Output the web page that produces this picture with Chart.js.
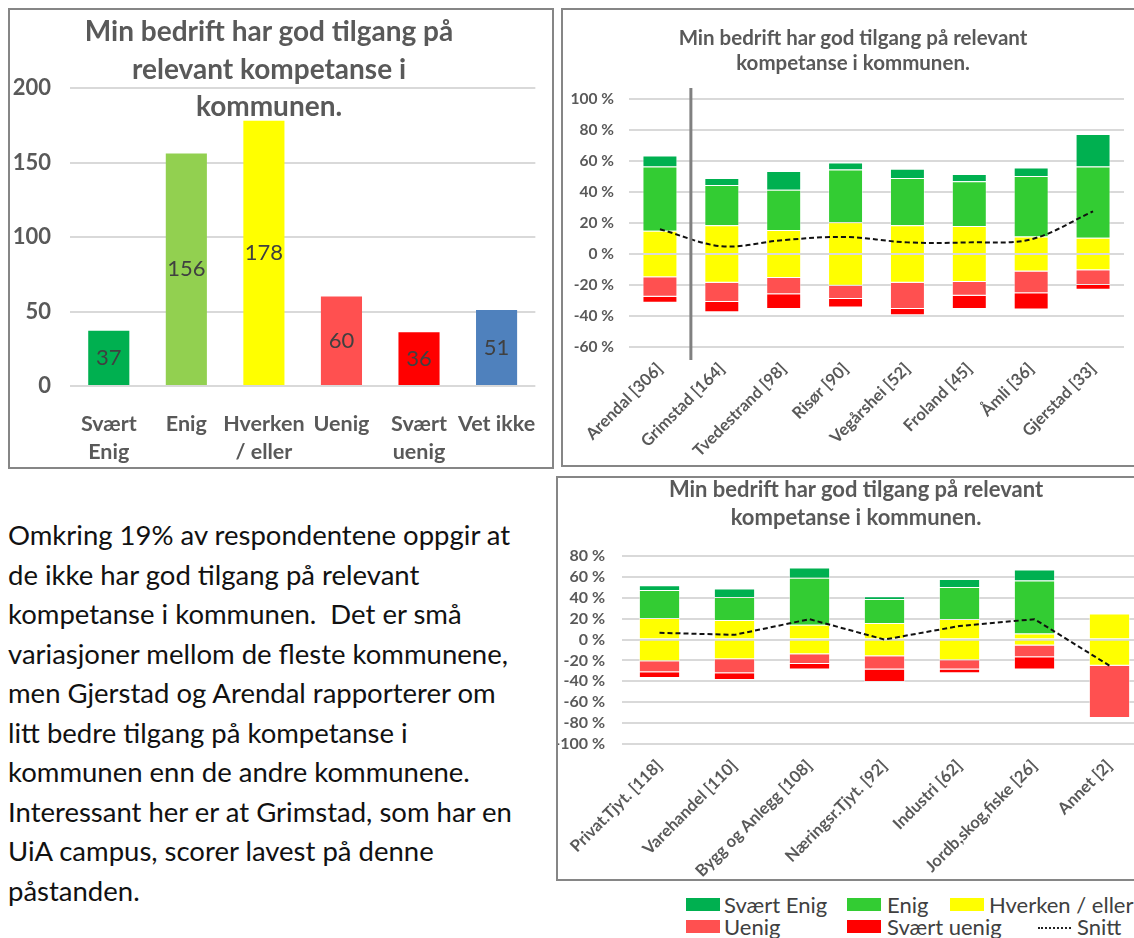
<!DOCTYPE html>
<html>
<head>
<meta charset="utf-8">
<script src="https://cdn.jsdelivr.net/npm/chart.js@4.4.1/dist/chart.umd.min.js"></script>
<style>
  html, body { margin: 0; padding: 0; background: #fff; }
  body { position: relative; width: 1134px; height: 938px; overflow: hidden; font-family: Lato, "Noto Sans", sans-serif; }
  .box { position: absolute; border: 2px solid #868686; box-sizing: border-box; background: #fff; overflow: hidden; }
  .box canvas { position: absolute; left: 0; top: 0; }
  .title { position: absolute; text-align: center; font-weight: bold; color: #595959; white-space: nowrap; }
  #text { position: absolute; left: 8px; top: 515px; font-size: 27.5px; line-height: 39.5px; color: #111; white-space: nowrap; }
  .leg { position: absolute; font-size: 22px; color: #404040; line-height: 22px; white-space: nowrap; }
  .sw { position: absolute; width: 34px; height: 13px; }
  .dash { position: absolute; width: 33px; border-top: 2px dotted #222; }
</style>
</head>
<body>

<div class="box" style="left:8px; top:8px; width:546px; height:461px;">
  <canvas id="overview" width="542" height="457"></canvas>
</div>
<div class="title" style="left:8px; width:522px; top:12px; font-size:28px; line-height:37.5px;">
  Min bedrift har god tilgang på<br>relevant kompetanse i<br>kommunen.
</div>

<div class="box" style="left:561px; top:8px; width:600px; height:459px;">
  <canvas id="kommune" width="596" height="455"></canvas>
</div>
<div class="title" style="left:553px; width:600px; top:25px; font-size:20.5px; line-height:25px;">
  Min bedrift har god tilgang på relevant<br>kompetanse i kommunen.
</div>

<div class="box" style="left:556px; top:476px; width:600px; height:405px;">
  <canvas id="bransje" width="596" height="401"></canvas>
</div>
<div class="title" style="left:556px; width:600px; top:475px; font-size:22px; line-height:28px;">
  Min bedrift har god tilgang på relevant<br>kompetanse i kommunen.
</div>

<div id="text">
  Omkring 19% av respondentene oppgir at<br>
  de ikke har god tilgang på relevant<br>
  kompetanse i kommunen.&nbsp; Det er små<br>
  variasjoner mellom de fleste kommunene,<br>
  men Gjerstad og Arendal rapporterer om<br>
  litt bedre tilgang på kompetanse i<br>
  kommunen enn de andre kommunene.<br>
  Interessant her er at Grimstad, som har en<br>
  UiA campus, scorer lavest på denne<br>
  påstanden.
</div>

<div class="sw" style="left:686px; top:898px; background:#00B050;"></div>
<div class="leg" style="left:724px; top:894px;">Svært Enig</div>
<div class="sw" style="left:847px; top:898px; background:#33CC33;"></div>
<div class="leg" style="left:887px; top:894px;">Enig</div>
<div class="sw" style="left:950px; top:898px; background:#FFFF00;"></div>
<div class="leg" style="left:989px; top:894px;">Hverken / eller</div>
<div class="sw" style="left:686px; top:920px; background:#FF5050;"></div>
<div class="leg" style="left:724px; top:916px;">Uenig</div>
<div class="sw" style="left:847px; top:920px; background:#FF0000;"></div>
<div class="leg" style="left:887px; top:916px;">Svært uenig</div>
<div class="dash" style="left:1038px; top:927px;"></div>
<div class="leg" style="left:1077px; top:916px;">Snitt</div>

<script>
// Oversikt (antall svar)
const overviewLabels = [['Svært', 'Enig'], 'Enig', ['Hverken', '/ eller'], 'Uenig', ['Svært', 'uenig'], 'Vet ikke'];
const overviewCounts = [37, 156, 178, 60, 36, 51];
const overviewTicks = [0, 50, 100, 150, 200];

// Per kommune (prosent)
const kommuner = ['Arendal [306]', 'Grimstad [164]', 'Tvedestrand [98]', 'Risør [90]', 'Vegårshei [52]', 'Froland [45]', 'Åmli [36]', 'Gjerstad [33]'];
const kommuneSvaertEnig = [7, 4.5, 12, 4.5, 6, 4.6, 5.6, 21];
const kommuneEnig = [41.5, 26, 26, 34, 30.5, 29, 39, 46];
const kommuneHverken = [30, 37, 31, 41, 37, 36, 22.5, 21];
const kommuneUenig = [12.5, 12.5, 10.5, 8.5, 17, 9, 14, 9.5];
const kommuneSvaertUenig = [4, 6.5, 9.5, 5.5, 4, 8.5, 10.5, 3];
const kommuneSnitt = [16, 5, 9, 11, 7.5, 7.5, 9.5, 27.5];
const kommuneTicks = [-60, -40, -20, 0, 20, 40, 60, 80, 100];

// Per bransje (prosent)
const bransjer = ['Privat.Tjyt. [118]', 'Varehandel [110]', 'Bygg og Anlegg [108]', 'Næringsr.Tjyt. [92]', 'Industri [62]', 'Jordb,skog,fiske [26]', 'Annet [2]'];
const bransjeSvaertEnig = [4.5, 8, 10, 2.6, 7.7, 10.6, 0];
const bransjeEnig = [26.7, 22, 45, 23, 30.5, 50.7, 0];
const bransjeHverken = [41.4, 37.6, 28.2, 31.8, 39.5, 11.6, 50];
const bransjeUenig = [10.6, 13.4, 9.4, 12.8, 9, 11.2, 50];
const bransjeSvaertUenig = [5.4, 6.5, 5.1, 11.9, 3.5, 11.6, 0];
const bransjeSnitt = [6.5, 4.5, 19.5, 0, 13, 19.5, -25];
const bransjeTicks = [-100, -80, -60, -40, -20, 0, 20, 40, 60, 80];

const COLORS = {
    svaertEnig: '#00B050',
    enig: '#33CC33',
    enigLys: '#92D050',
    hverken: '#FFFF00',
    uenig: '#FF5050',
    svaertUenig: '#FF0000',
    vetIkke: '#4F81BD'
};
const FONT = 'Lato, "Noto Sans", sans-serif';
const GRID = '#d9d9d9';

Chart.defaults.font.family = FONT;
Chart.defaults.color = '#595959';

// Tall midt i søylene
const valueLabels = {
    id: 'valueLabels',
    afterDatasetsDraw(chart) {
        const ctx = chart.ctx;
        const meta = chart.getDatasetMeta(0);
        ctx.save();
        ctx.font = '22px ' + FONT;
        ctx.fillStyle = '#404040';
        ctx.textAlign = 'center';
        ctx.textBaseline = 'middle';
        meta.data.forEach((bar, i) => {
            const mid = (bar.y + bar.base) / 2;
            ctx.fillText(String(overviewCounts[i]), bar.x, mid);
        });
        ctx.restore();
    }
};

// Skillelinje mellom Arendal og resten
const separator = {
    id: 'separator',
    afterDatasetsDraw(chart) {
        const x = chart.scales.x;
        const area = chart.chartArea;
        const px = (x.getPixelForValue(0) + x.getPixelForValue(1)) / 2;
        const ctx = chart.ctx;
        ctx.save();
        ctx.strokeStyle = '#808080';
        ctx.lineWidth = 3;
        ctx.beginPath();
        ctx.moveTo(px, area.top - 11);
        ctx.lineTo(px, area.bottom + 13);
        ctx.stroke();
        ctx.restore();
    }
};

new Chart(document.getElementById('overview'), {
    type: 'bar',
    data: {
        labels: overviewLabels,
        datasets: [{
            data: overviewCounts,
            backgroundColor: [COLORS.svaertEnig, COLORS.enigLys, COLORS.hverken, COLORS.uenig, COLORS.svaertUenig, COLORS.vetIkke],
            barPercentage: 0.53,
            categoryPercentage: 1
        }]
    },
    options: {
        responsive: false,
        animation: false,
        layout: { padding: { top: 78, right: 10, bottom: 0, left: 0 } },
        plugins: { legend: { display: false }, tooltip: { enabled: false } },
        scales: {
            x: {
                grid: { display: false },
                border: { display: false },
                ticks: { font: { size: 21.5, weight: 'bold', lineHeight: 1.3 }, padding: 16, maxRotation: 0, autoSkip: false },
                afterFit: s => { s.height = 81; }
            },
            y: {
                min: 0,
                max: 200,
                afterBuildTicks: s => { s.ticks = overviewTicks.map(v => ({ value: v })); },
                grid: { color: GRID, lineWidth: 2, drawTicks: false },
                border: { display: false },
                ticks: { font: { size: 22, weight: 'bold' }, padding: 19, autoSkip: false },
                afterFit: s => { s.width = 60; }
            }
        }
    },
    plugins: [valueLabels]
});

function stackedSets(se, enig, hverken, uenig, su, snitt, tension, barPct) {
    const bar = (label, data, color) => ({
        label, data, backgroundColor: color,
        borderColor: 'rgba(255,255,255,0.45)', borderWidth: 1,
        barPercentage: barPct, categoryPercentage: 1, order: 1
    });
    return [
        bar('Hverken / eller', hverken.map(v => -v / 2), COLORS.hverken),
        bar('Hverken / eller', hverken.map(v => v / 2), COLORS.hverken),
        bar('Enig', enig, COLORS.enig),
        bar('Svært Enig', se, COLORS.svaertEnig),
        bar('Uenig', uenig.map(v => -v), COLORS.uenig),
        bar('Svært uenig', su.map(v => -v), COLORS.svaertUenig),
        {
            type: 'line', label: 'Snitt', data: snitt, stack: 'snitt', order: 0,
            borderColor: '#111', borderWidth: 2, borderDash: [5, 3],
            pointRadius: 0, tension: tension, fill: false
        }
    ];
}

function stackedOptions(ticks, yWidth, xHeight, padTop, padRight, xFont, yFont, tickPad) {
    return {
        responsive: false,
        animation: false,
        layout: { padding: { top: padTop, right: padRight, bottom: 0, left: 0 } },
        plugins: { legend: { display: false }, tooltip: { enabled: false } },
        scales: {
            x: {
                stacked: true,
                grid: { display: false },
                border: { display: false },
                ticks: { font: { size: xFont, weight: 'bold' }, minRotation: 45, maxRotation: 45, padding: 4, autoSkip: false },
                afterFit: s => { s.height = xHeight; }
            },
            y: {
                stacked: true,
                min: ticks[0],
                max: ticks[ticks.length - 1],
                afterBuildTicks: s => { s.ticks = ticks.map(v => ({ value: v })); },
                grid: { color: GRID, lineWidth: 2, drawTicks: false },
                border: { display: false },
                ticks: { font: { size: yFont, weight: 'bold' }, padding: tickPad, autoSkip: false, callback: v => v + ' %' },
                afterFit: s => { s.width = yWidth; }
            }
        }
    };
}

new Chart(document.getElementById('kommune'), {
    type: 'bar',
    data: {
        labels: kommuner,
        datasets: stackedSets(kommuneSvaertEnig, kommuneEnig, kommuneHverken, kommuneUenig, kommuneSvaertUenig, kommuneSnitt, 0.35, 0.565)
    },
    options: stackedOptions(kommuneTicks, 66, 118, 89, 35, 16.5, 15.5, 15),
    plugins: [separator]
});

new Chart(document.getElementById('bransje'), {
    type: 'bar',
    data: {
        labels: bransjer,
        datasets: stackedSets(bransjeSvaertEnig, bransjeEnig, bransjeHverken, bransjeUenig, bransjeSvaertUenig, bransjeSnitt, 0, 0.55)
    },
    options: stackedOptions(bransjeTicks, 64, 135, 78, 7, 16.5, 16, 17)
});
</script>
</body>
</html>
